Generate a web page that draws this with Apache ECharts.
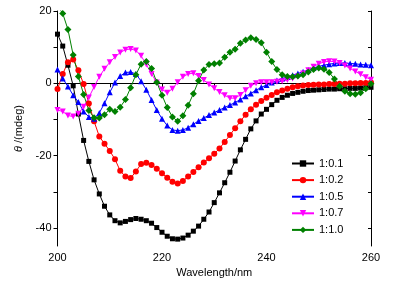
<!DOCTYPE html>
<html>
<head>
<meta charset="utf-8">
<script src="https://cdn.jsdelivr.net/npm/echarts@6/dist/echarts.min.js"></script>
<style>html,body{margin:0;padding:0;background:#fff}#c{width:393px;height:286px}</style>
</head>
<body>
<div id="c"></div>
<script>
const wavelengths = [];
for (let w = 200; w <= 260; w++) wavelengths.push(w);

const s01 = [13.6,10.3,5.0,-0.7,-8.5,-15.8,-21.6,-26.7,-30.6,-34.0,-36.4,-38.0,-38.6,-38.2,-37.7,-37.4,-37.6,-38.0,-38.7,-39.9,-41.2,-42.3,-43.0,-43.1,-42.8,-42.0,-40.9,-39.5,-37.6,-35.6,-33.0,-30.3,-27.5,-24.6,-21.5,-18.4,-15.5,-12.6,-10.4,-8.5,-7.2,-5.9,-4.7,-3.9,-3.3,-2.8,-2.5,-2.2,-2.0,-1.9,-1.8,-1.7,-1.6,-1.6,-1.5,-1.5,-1.4,-1.4,-1.3,-1.2,-1.1];
const s02 = [-1.6,2.6,5.8,6.6,3.6,-0.2,-5.6,-10.5,-14.7,-16.7,-18.7,-21.0,-24.2,-25.8,-26.2,-24.4,-22.3,-22.0,-22.6,-23.6,-24.9,-26.1,-27.2,-27.7,-27.0,-25.8,-24.5,-23.2,-21.9,-20.7,-19.5,-18.0,-16.2,-14.3,-12.4,-10.5,-8.7,-7.2,-5.9,-4.9,-4.0,-3.2,-2.5,-2.0,-1.5,-1.1,-0.8,-0.6,-0.5,-0.4,-0.3,-0.3,-0.2,-0.2,-0.1,-0.1,0.0,0.0,0.1,0.1,0.2];
const s05 = [3.8,1.3,-0.9,-3.3,-5.2,-7.8,-9.3,-9.8,-8.2,-5.5,-2.5,0.2,2.0,3.0,3.1,2.6,0.6,-1.8,-4.6,-7.4,-9.8,-11.7,-12.9,-13.1,-12.9,-12.3,-11.3,-10.4,-9.6,-8.8,-8.1,-7.4,-6.7,-6.0,-5.3,-4.5,-3.6,-2.8,-1.9,-1.1,-0.5,0.2,0.8,1.3,1.8,2.2,2.7,3.2,3.7,4.2,4.7,5.0,5.3,5.5,5.6,5.6,5.5,5.4,5.2,5.1,5.0];
const s07 = [-7.4,-7.8,-8.9,-9.2,-8.4,-6.5,-3.9,-1.0,1.8,4.0,5.8,7.3,8.5,9.3,9.5,9.1,7.6,5.2,2.6,0.2,-1.7,-2.6,-1.5,0.3,1.8,2.6,2.8,2.0,0.9,-0.3,-1.4,-2.4,-3.3,-4.1,-4.1,-3.2,-1.9,-0.7,0.0,0.3,0.3,0.3,0.4,0.6,0.9,1.3,1.9,2.7,3.6,4.6,5.4,5.9,6.1,6.0,5.6,4.9,4.1,3.3,2.5,1.7,1.0];
const s10 = [21.5,19.3,14.9,7.8,1.9,-3.1,-7.5,-9.5,-9.6,-8.7,-7.2,-7.8,-6.6,-4.5,-1.2,2.4,5.3,6.0,4.1,0.3,-3.3,-6.7,-9.3,-10.5,-9.0,-6.1,-2.9,0.7,3.7,5.2,5.4,5.6,7.2,8.6,9.4,11.1,12.0,12.6,12.1,11.2,8.6,6.0,3.8,2.4,1.9,1.8,2.0,2.4,3.1,3.8,4.2,3.9,3.0,1.2,-0.8,-2.2,-2.9,-3.0,-2.6,-1.5,-0.1];

const seriesNames = ['1:0.1','1:0.2','1:0.5','1:0.7','1:1.0'];
const xLabels = [200, 220, 240, 260];
const xTicks = [200, 210, 220, 230, 240, 250, 260];
const yLabels = [-40, -20, 0, 20];
const yTicks = [-40, -30, -20, -10, 0, 10, 20];

const seriesValues = [s01, s02, s05, s07, s10];
const colors = ['#000000', '#ff0000', '#0000ff', '#ff00ff', '#008000'];
const symbols = ['rect', 'circle', 'triangle', 'triangle', 'diamond'];
const symbolRot = [0, 0, 0, 180, 0];
const symbolSizes = [5, 6, 6, 6, 7];

const chart = echarts.init(document.getElementById('c'), null, {renderer: 'canvas'});
const font = 'Liberation Sans, Arial, sans-serif';

const series = seriesValues.map((vals, i) => ({
  name: seriesNames[i],
  type: 'line',
  xAxisIndex: 0,
  yAxisIndex: 0,
  data: wavelengths.map((w, j) => [w, vals[j]]),
  symbol: symbols[i],
  symbolRotate: symbolRot[i],
  symbolSize: symbolSizes[i],
  showAllSymbol: true,
  clip: true,
  lineStyle: {color: colors[i], width: 1},
  itemStyle: {color: colors[i]},
  animation: false
}));

chart.setOption({
  backgroundColor: '#ffffff',
  animation: false,
  grid: {left: 57.5, right: 22, top: 11, bottom: 40, containLabel: false},
  legend: {
    orient: 'vertical',
    left: 286,
    top: 153,
    itemWidth: 22,
    itemHeight: 8,
    itemGap: 5.6,
    textStyle: {fontFamily: font, fontSize: 11, color: '#000'},
    data: seriesNames
  },
  xAxis: [{
    type: 'value', min: 200, max: 260, position: 'bottom',
    name: 'Wavelength/nm', nameLocation: 'middle', nameGap: 21,
    nameTextStyle: {fontFamily: font, fontSize: 11, color: '#000'},
    axisLine: {lineStyle: {color: '#000', width: 1}},
    axisTick: {show: true, inside: false, length: 4, customValues: xTicks, lineStyle: {color: '#000'}},
    axisLabel: {customValues: xLabels, fontFamily: font, fontSize: 11, color: '#000', margin: 6},
    splitLine: {show: false}
  }, {
    type: 'value', min: 200, max: 260, position: 'top',
    axisLine: {lineStyle: {color: '#000', width: 1}},
    axisTick: {show: true, inside: true, length: 3, customValues: xTicks, lineStyle: {color: '#000'}},
    axisLabel: {show: false},
    splitLine: {show: false}
  }],
  yAxis: [{
    type: 'value', min: -45, max: 20, position: 'left',
    name: '{i|θ} /(mdeg)', nameLocation: 'middle', nameGap: 28, nameRotate: 90,
    nameTextStyle: {fontFamily: font, fontSize: 11, color: '#000',
      rich: {i: {fontStyle: 'italic', fontFamily: font, fontSize: 11, color: '#000'}}},
    axisLine: {show: true, lineStyle: {color: '#000', width: 1}},
    axisTick: {show: true, inside: false, length: 4, customValues: yTicks, lineStyle: {color: '#000'}},
    axisLabel: {customValues: yLabels, fontFamily: font, fontSize: 11, color: '#000', margin: 6},
    splitLine: {show: false}
  }, {
    type: 'value', min: -45, max: 20, position: 'right',
    axisLine: {show: true, lineStyle: {color: '#000', width: 1}},
    axisTick: {show: true, inside: true, length: 3, customValues: yTicks, lineStyle: {color: '#000'}},
    axisLabel: {show: false},
    splitLine: {show: false}
  }],
  series: series
});
</script>
</body>
</html>
